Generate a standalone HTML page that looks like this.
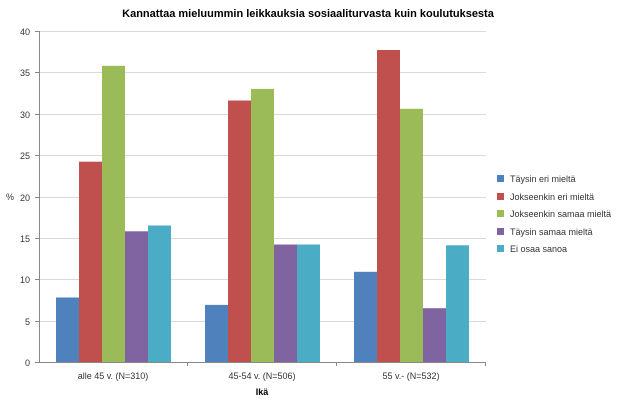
<!DOCTYPE html>
<html><head><style>body{margin:0;background:#fff}</style></head><body>
<svg width="617" height="404" xmlns="http://www.w3.org/2000/svg" font-family="Liberation Sans, sans-serif">
<rect width="617" height="404" fill="#fff"/>
<text x="308" y="17" font-size="11" font-weight="bold" text-anchor="middle">Kannattaa mieluummin leikkauksia sosiaaliturvasta kuin koulutuksesta</text>
<g stroke="#d9d9d9" stroke-width="1">
<line x1="39" x2="486" y1="31.5" y2="31.5"/><line x1="39" x2="486" y1="72.5" y2="72.5"/><line x1="39" x2="486" y1="114.5" y2="114.5"/><line x1="39" x2="486" y1="155.5" y2="155.5"/><line x1="39" x2="486" y1="197.5" y2="197.5"/><line x1="39" x2="486" y1="238.5" y2="238.5"/><line x1="39" x2="486" y1="279.5" y2="279.5"/><line x1="39" x2="486" y1="321.5" y2="321.5"/>
</g>
<g font-size="9" fill="#333" text-anchor="end">
<text x="30" y="35">40</text><text x="30" y="76">35</text><text x="30" y="118">30</text><text x="30" y="159">25</text><text x="30" y="201">20</text><text x="30" y="242">15</text><text x="30" y="283">10</text><text x="30" y="325">5</text><text x="30" y="366">0</text>
</g>
<text x="6" y="200" font-size="9" fill="#333">%</text>
<g>
<rect x="56" y="297.5" width="23" height="64.5" fill="#4f81bd"/>
<rect x="79" y="161.7" width="23" height="200.3" fill="#c0504d"/>
<rect x="102" y="65.8" width="23" height="296.2" fill="#9bbb59"/>
<rect x="125" y="231.3" width="23" height="130.7" fill="#8064a2"/>
<rect x="148" y="225.5" width="23" height="136.5" fill="#4bacc6"/>
<rect x="205" y="304.9" width="23" height="57.1" fill="#4f81bd"/>
<rect x="228" y="100.5" width="23" height="261.5" fill="#c0504d"/>
<rect x="251" y="88.9" width="23" height="273.1" fill="#9bbb59"/>
<rect x="274" y="244.5" width="23" height="117.5" fill="#8064a2"/>
<rect x="297" y="244.5" width="23" height="117.5" fill="#4bacc6"/>
<rect x="354" y="271.8" width="23" height="90.2" fill="#4f81bd"/>
<rect x="377" y="50" width="23" height="312" fill="#c0504d"/>
<rect x="400" y="108.8" width="23" height="253.2" fill="#9bbb59"/>
<rect x="423" y="308.2" width="23" height="53.8" fill="#8064a2"/>
<rect x="446" y="245.3" width="23" height="116.7" fill="#4bacc6"/>
</g>
<g stroke="#888" stroke-width="1">
<line x1="39.5" x2="39.5" y1="31" y2="362"/><line x1="35" x2="486" y1="362.5" y2="362.5"/>
<line x1="35" x2="39" y1="31.5" y2="31.5"/><line x1="35" x2="39" y1="72.5" y2="72.5"/><line x1="35" x2="39" y1="114.5" y2="114.5"/><line x1="35" x2="39" y1="155.5" y2="155.5"/><line x1="35" x2="39" y1="197.5" y2="197.5"/><line x1="35" x2="39" y1="238.5" y2="238.5"/><line x1="35" x2="39" y1="279.5" y2="279.5"/><line x1="35" x2="39" y1="321.5" y2="321.5"/>
<line x1="187.5" x2="187.5" y1="362" y2="366"/><line x1="336.5" x2="336.5" y1="362" y2="366"/><line x1="485.5" x2="485.5" y1="362" y2="366"/>
</g>
<g font-size="9" fill="#333" text-anchor="middle">
<text x="113" y="379">alle 45 v. (N=310)</text><text x="262" y="379">45-54 v. (N=506)</text><text x="411" y="379">55 v.- (N=532)</text>
</g>
<text x="262" y="395" font-size="9" font-weight="bold" text-anchor="middle">Ikä</text>
<g font-size="9" fill="#333">
<rect x="497" y="175" width="7" height="7" fill="#4f81bd"/><text x="510" y="182">Täysin eri mieltä</text>
<rect x="497" y="193" width="7" height="7" fill="#c0504d"/><text x="510" y="200">Jokseenkin eri mieltä</text>
<rect x="497" y="210" width="7" height="7" fill="#9bbb59"/><text x="510" y="217">Jokseenkin samaa mieltä</text>
<rect x="497" y="228" width="7" height="7" fill="#8064a2"/><text x="510" y="235">Täysin samaa mieltä</text>
<rect x="497" y="245" width="7" height="7" fill="#4bacc6"/><text x="510" y="252">Ei osaa sanoa</text>
</g>
</svg>
</body></html>
